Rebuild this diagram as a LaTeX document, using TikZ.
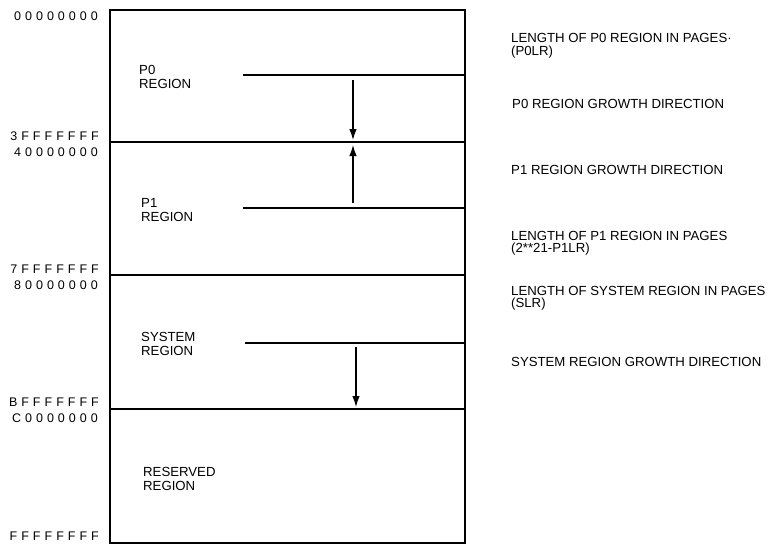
\documentclass[tikz,border=0pt]{standalone}
\usepackage{fontspec}
\setmainfont{Liberation Sans}
\newfontfamily\addrfont[LetterSpace=32]{Liberation Sans}
\usetikzlibrary{arrows.meta}

\tikzset{
  addr/.style={anchor=east, inner sep=0pt, font=\addrfont\fontsize{12.5}{13}\selectfont},
  regionlbl/.style={anchor=base west, inner sep=0pt, align=left, font=\fontsize{13.2}{14}\selectfont},
  note/.style={anchor=base west, inner sep=0pt, align=left, font=\fontsize{13.2}{12.5}\selectfont},
  growth/.style={line width=1.2pt, -{Latex[length=11pt,width=7.5pt]}}
}

\begin{document}
\begin{tikzpicture}[x=1pt, y=-1pt]
    \useasboundingbox (0,0) rectangle (771,544);

    % Dessiner le cadre de l'espace d'adressage
    \draw[line width=2pt] (110,10) rectangle (465,543);
    \foreach \y in {142,275,409}
        \draw[line width=1.6pt] (110,\y) -- (465,\y);

    % Les longueurs des regions
    \draw[line width=1.3pt] (243,75) -- (465,75);
    \draw[line width=1.3pt] (243,208) -- (465,208);
    \draw[line width=1.3pt] (245,343) -- (465,343);

    % Les sens de croissance
    \coordinate (p0top) at (353,80);
    \coordinate (p0end) at (353,140);
    \coordinate (p1top) at (353,203);
    \coordinate (p1end) at (353,145);
    \coordinate (systop) at (356,347);
    \coordinate (sysend) at (356,407);
    \draw[growth] (p0top) -- (p0end);
    \draw[growth] (p1top) -- (p1end);
    \draw[growth] (systop) -- (sysend);

    % Les adresses
    \node[addr] (a0) at (98,16) {00000000};
    \node[addr] (a1) at (99,136) {3FFFFFFF};
    \node[addr] (a2) at (98,152) {40000000};
    \node[addr] (a3) at (99,269) {7FFFFFFF};
    \node[addr] (a4) at (98,285) {80000000};
    \node[addr] (a5) at (99,402) {BFFFFFFF};
    \node[addr] (a6) at (98,418) {C0000000};
    \node[addr] (a7) at (99,536) {FFFFFFFF};

    % Les noms des regions (la base est celle de la derniere ligne)
    \node[regionlbl] (p0) at (139,88) {P0\\REGION};
    \node[regionlbl] (p1) at (141,221) {P1\\REGION};
    \node[regionlbl] (sys) at (141,355) {SYSTEM\\REGION};
    \node[regionlbl] (res) at (143,490) {RESERVED\\REGION};

    % Les legendes a droite
    \node[note] (n1) at (511,55) {LENGTH OF P0 REGION IN PAGES·\\(P0LR)};
    \node[note] (n2) at (512,108) {P0 REGION GROWTH DIRECTION};
    \node[note] (n3) at (511,174) {P1 REGION GROWTH DIRECTION};
    \node[note] (n4) at (511,252.5) {LENGTH OF P1 REGION IN PAGES\\(2**21-P1LR)};
    \node[note] (n5) at (511,307.5) {LENGTH OF SYSTEM REGION IN PAGES\\(SLR)};
    \node[note] (n6) at (511,366) {SYSTEM REGION GROWTH DIRECTION};
\end{tikzpicture}
\end{document}
